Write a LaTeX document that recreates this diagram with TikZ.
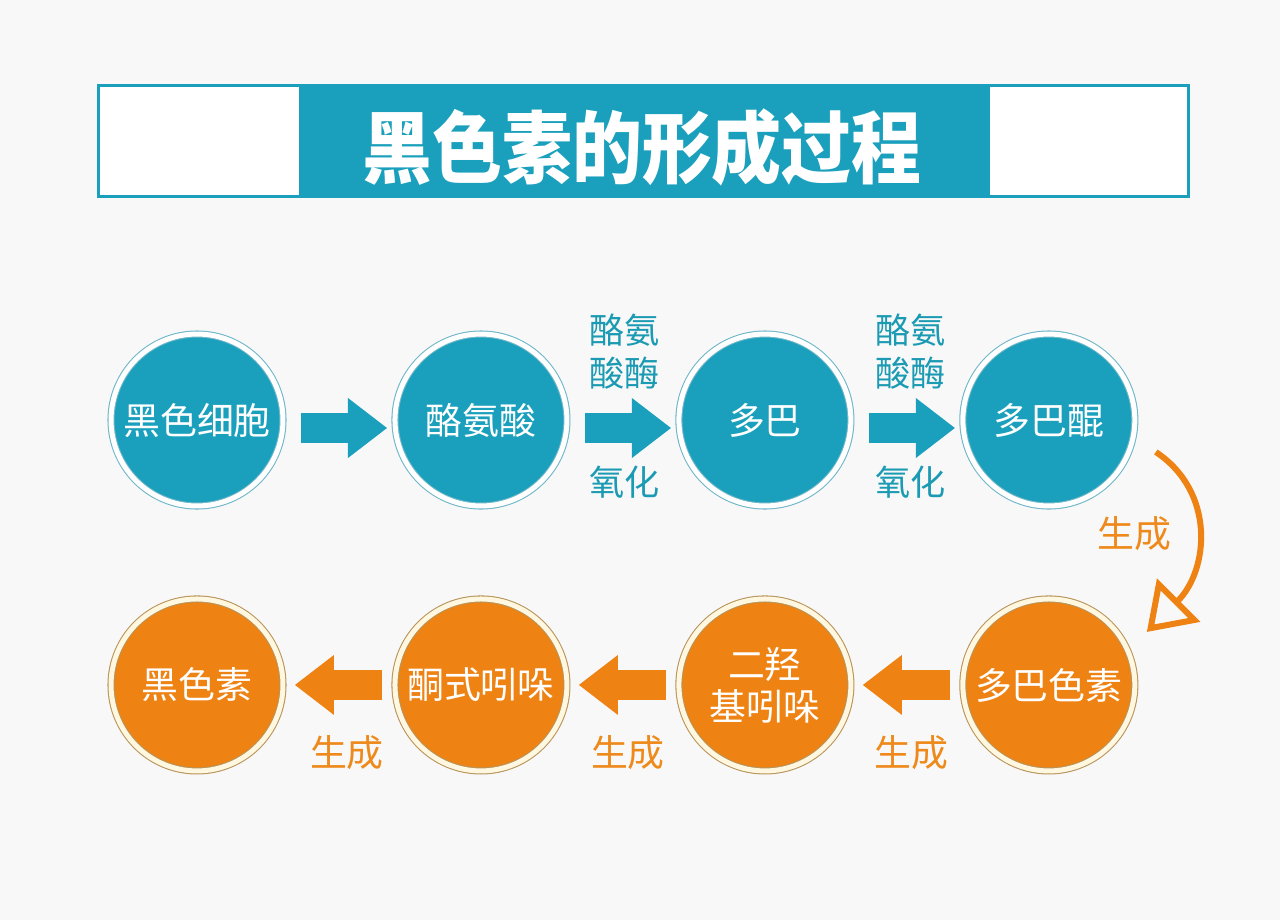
\documentclass[tikz,border=0pt]{standalone}
\usepackage{fontspec}
\setmainfont{Noto Sans CJK SC}
\usepackage{graphicx}
\usepackage{tikz}
\usetikzlibrary{arrows.meta,positioning,calc}
\definecolor{tealc}{HTML}{1AA0BC}
\definecolor{tealline}{HTML}{6DB6C8}
\definecolor{tealtxt}{HTML}{1B9AB3}
\definecolor{orangec}{HTML}{EE8212}
\definecolor{orangeline}{HTML}{B8945A}
\definecolor{orangetxt}{HTML}{EE8A1C}
\definecolor{cream}{HTML}{FFF7E0}
\definecolor{bgc}{HTML}{F8F8F8}

\begin{document}
\begin{tikzpicture}[x=0.02cm,y=-0.02cm,node distance=1.86cm and 2.24cm,
  tball/.style={circle,fill=tealc,draw=tealline,line width=0.6pt,double=white,double distance=0.1cm,
    minimum size=3.44cm,inner sep=0pt,outer sep=0pt,text=white,align=center,
    font=\fontsize{21}{26}\selectfont},
  oball/.style={tball,fill=orangec,draw=orangeline,double=cream},
  tarrow/.style={line width=0.6cm,tealc,shorten <=0.36cm,shorten >=0.16cm,
    -{Triangle[length=0.78cm 0 0,width=1.2cm 0 0,line width=0pt 0 0]}},
  oarrow/.style={line width=0.6cm,orangec,shorten <=0.26cm,shorten >=0.24cm,
    -{Triangle[length=0.78cm 0 0,width=1.2cm 0 0,line width=0pt 0 0]}},
  tlabel/.style={text=tealtxt,align=center,font=\fontsize{20}{24.5}\selectfont},
  olabel/.style={text=orangetxt,font=\fontsize{21}{24}\selectfont},
  gcurve/.style={orangec,line width=0.12cm,line join=miter,
    -{Triangle[open,length=0.9cm 0 0,width=1.2cm 0 0]}}]

% background and banner
\fill[bgc] (0,0) rectangle (1280,920);
\useasboundingbox (0,0) rectangle (1280,920);
\node[draw=tealc,line width=0.06cm,fill=white,minimum width=21.82cm,minimum height=2.24cm] (banner) at (643.5,141) {};
\fill[tealc] (299,86.5) rectangle (990,195.5);
\node[text=white,font=\bfseries\fontsize{39}{44}\selectfont] (title) at (642,147) {\scalebox{1.02}[1.15]{黑色素的形成过程}};

% top row
\node[tball] (cell) at (197,420) {黑色细胞};
\node[tball,right=of cell] (tyr) {酪氨酸};
\node[tball,right=of tyr] (dopa) {多巴};
\node[tball,right=of dopa] (quin) {多巴醌};

% bottom row
\node[oball,below=of quin] (dchr) {多巴色素};
\node[oball,left=of dchr] (dhi) {二羟\\[-2pt]基吲哚};
\node[oball,left=of dhi] (keto) {酮式吲哚};
\node[oball,left=of keto] (mel) {黑色素};

% arrows
\draw[tarrow] ([yshift=-0.16cm]cell.east) -- ([yshift=-0.16cm]tyr.west);
\draw[tarrow] ([yshift=-0.16cm]tyr.east) -- ([yshift=-0.16cm]dopa.west)
  node[midway,above=0.36cm,xshift=0.04cm,tlabel] {酪氨\\酸酶}
  node[midway,below=0.34cm,xshift=0.04cm,tlabel] {氧化};
\draw[tarrow] ([yshift=-0.16cm]dopa.east) -- ([yshift=-0.16cm]quin.west)
  node[midway,above=0.36cm,xshift=0.08cm,tlabel] {酪氨\\酸酶}
  node[midway,below=0.34cm,xshift=0.08cm,tlabel] {氧化};

\draw[oarrow] (dchr.west) -- (dhi.east) node[midway,below=0.6cm,xshift=0.1cm,olabel] {生成};
\draw[oarrow] (dhi.west) -- (keto.east) node[midway,below=0.6cm,xshift=0.1cm,olabel] {生成};
\draw[oarrow] (keto.west) -- (mel.east) node[midway,below=0.6cm,xshift=0.16cm,olabel] {生成};

% curved arrow
\coordinate (gs) at ($(quin)+(107,32)$);
\coordinate (ge) at ($(dchr)+(98,-53)$);
\draw[gcurve] (gs) .. controls +(60,40) and +(62,-62) .. (ge)
  node[pos=0.5,left=0.34cm,olabel] {生成};
\end{tikzpicture}
\end{document}
